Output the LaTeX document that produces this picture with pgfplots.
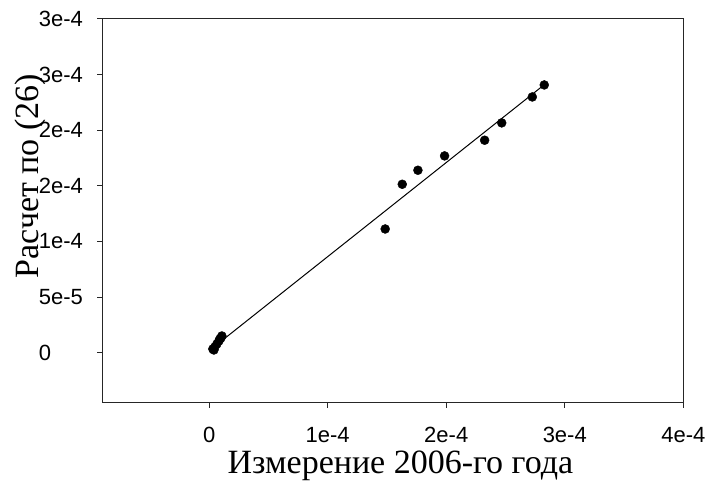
\documentclass[border=0pt]{standalone}
\usepackage{fontspec}
\setmainfont{Liberation Serif}
\newfontfamily\arial{Liberation Sans}
\usepackage{pgfplots}
\pgfplotsset{compat=1.18}

\begin{document}
\begin{tikzpicture}
\begin{axis}[
  scale only axis,
  width=580.8pt, height=383.7pt,
  xmin=-9e-5, xmax=4e-4,
  ymin=-4.5e-5, ymax=3e-4,
  axis line style={line width=1pt, black!85},
  tick style={line width=1pt, black!85},
  tick align=outside, tick pos=left,
  major tick length=5pt,
  scaled ticks=false,
  xtick={0,1e-4,2e-4,3e-4,4e-4},
  xticklabels={0,1e-4,2e-4,3e-4,4e-4},
  ytick={0,5e-5,1e-4,1.5e-4,2e-4,2.5e-4,3e-4},
  yticklabels={0,5e-5,1e-4,2e-4,2e-4,3e-4,3e-4},
  ticklabel style={font=\arial\fontsize{22}{26}\selectfont, inner sep=0pt},
  xticklabel style={anchor=base, yshift=-35pt},
  yticklabel style={anchor=east, text width=58.5pt, align=left},
  xlabel={Измерение 2006-го года},
  ylabel={Расчет по (26)},
  label style={font=\fontsize{34}{40}\selectfont, inner sep=0pt},
  xlabel style={at={(axis description cs:0.513,-0.1855)}, anchor=base},
  ylabel style={at={(axis description cs:-0.111,0.5908)}, anchor=base},
]
% measured points
\addplot[only marks, mark=*, mark size=4.5pt, black] coordinates {
(3.1e-6, 3.3e-6)
(4.8e-6, 5.1e-6)
(4.0e-6, 2.4e-6)
(6.5e-6, 7.8e-6)
(8.2e-6, 1.05e-5)
(9.9e-6, 1.32e-5)
(1.07e-5, 1.50e-5)
(9.0e-6, 1.23e-5)
(1.485e-4, 1.112e-4)
(1.629e-4, 1.514e-4)
(1.761e-4, 1.640e-4)
(1.986e-4, 1.769e-4)
(2.324e-4, 1.910e-4)
(2.468e-4, 2.066e-4)
(2.726e-4, 2.299e-4)
(2.827e-4, 2.407e-4)
};
% fitted line
\addplot[black, line width=1pt] coordinates {(6e-6, 6.8e-6) (2.847e-4, 2.426e-4)};
\end{axis}
\pgfresetboundingbox
\path[use as bounding box] ([xshift=-102.5pt,yshift=-81.3pt]current axis.south west) rectangle ([xshift=26.7pt,yshift=19pt]current axis.north east);
\end{tikzpicture}
\end{document}
